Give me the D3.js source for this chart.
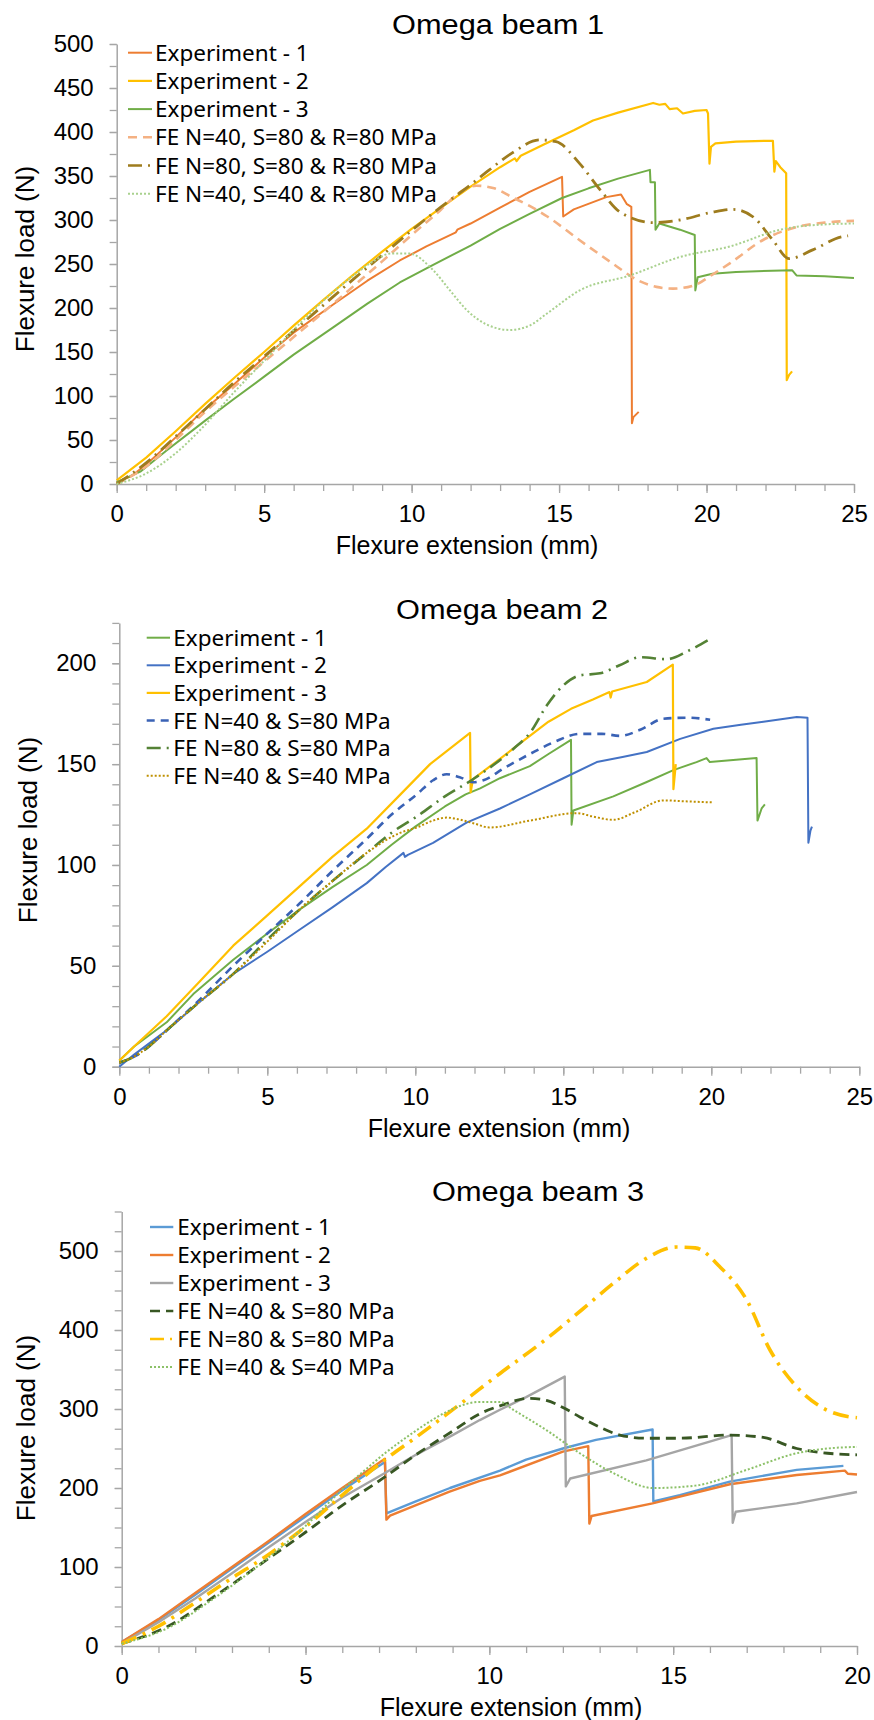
<!DOCTYPE html>
<html><head><meta charset="utf-8">
<script src="https://cdn.jsdelivr.net/npm/d3@7"></script>
<style>body{margin:0;background:#fff} svg{display:block}</style>
</head><body><svg id="c" width="874" height="1720"></svg>
<script>
// ---------------- Omega beam 1 ----------------
const b1Names = ["Experiment - 1","Experiment - 2","Experiment - 3","FE N=40, S=80 & R=80 MPa","FE N=80, S=80 & R=80 MPa","FE N=40, S=40 & R=80 MPa"];
const b1Exp1 = [[0,2],[0.5,9],[1,22],[2,53],[2.82,80],[4,114],[5.08,146],[6,172],[7.34,204],[8.5,231],[9.6,254],[10.5,270],[11.5,286],[11.55,289],[12,296],[13,314],[14,332],[15.1,349],[15.14,304],[15.5,312],[16.6,326],[17.1,329],[17.3,318],[17.45,315],[17.47,69],[17.52,76],[17.7,82]];
const b1Exp2 = [[0,4],[1,30],[2,60],[3,91],[4,121],[5,150],[6,180],[7,209],[8,237],[9,264],[10,290],[11,314],[12,338],[13,360],[13.5,370],[13.56,367],[13.7,373],[14.5,386],[15.5,402],[16.15,413],[17,422],[18.19,433],[18.4,431],[18.6,432],[18.75,426],[19.0,427],[19.2,421],[19.6,424],[20.0,425],[20.05,421],[20.1,364],[20.15,383],[20.3,387],[21,389],[22,390],[22.25,390],[22.3,355],[22.35,367],[22.5,360],[22.7,353],[22.72,118],[22.8,124],[22.9,128]];
const b1Exp3 = [[0,2],[0.8,14],[1.69,38],[3,72],[3.95,96],[5,122],[6,147],[7.34,178],[8.5,205],[9.6,229],[10.73,249],[12,271],[13,290],[14,307],[15.1,325],[16,336],[17,347],[18.08,357],[18.1,343],[18.25,343],[18.27,289],[18.4,296],[19.1,289],[19.6,283],[19.62,220],[19.7,235],[20.2,239],[21,241],[22.9,243],[23.05,237],[24,236],[25,234]];
const b1Fe1 = [[0,0],[1,20],[2,50],[3,82],[4,111],[5,139],[6,167],[7,195],[8,224],[9,253],[10,283],[11,312],[11.5,328],[12.2,339],[12.8,336],[13.4,326],[14,316],[14.6,304],[15.7,277],[16.8,251],[17.7,231],[18.3,224],[18.86,222],[19.6,226],[20.2,238],[20.8,251],[21.9,277],[23.05,292],[24,297],[25,299]];
const b1Fe2 = [[0,0],[1,24],[2,54],[3,85],[4,116],[5,145],[6,174],[7,203],[8,232],[9,260],[10,288],[11,315],[12,340],[12.6,356],[13.4,376],[14.35,391],[14.9,389],[15.7,364],[16.4,334],[17.07,309],[18.2,297],[19.1,300],[20.2,309],[20.9,312],[21.6,303],[22.25,277],[22.8,256],[23.6,266],[24.6,281],[24.8,282]];
const b1Fe3 = [[0,0],[1,12],[2,35],[2.82,61],[4,105],[5,140],[6.2,182],[7,208],[8,236],[8.8,255],[9.3,262],[9.9,262],[10.73,243],[11.3,220],[11.86,198],[12.5,182],[13.33,175],[14,180],[14.6,194],[15.7,220],[17.4,237],[19.1,258],[20.8,270],[22.5,289],[24,295],[25,296]];

// ---------------- Omega beam 2 ----------------
const b2Names = ["Experiment - 1","Experiment - 2","Experiment - 3","FE N=40 & S=80 MPa","FE N=80 & S=80 MPa","FE N=40 & S=40 MPa"];
const b2Exp1 = [[0,3],[0.5,10],[1.6,22],[2.5,36],[3.85,53],[5,66],[6.1,78],[7.2,89],[8.36,100],[9.2,110],[10,119],[11,129],[11.7,135],[12.19,138],[12.86,143],[13.87,149],[14.5,155],[15.26,162],[15.28,120],[15.34,127],[16.69,134],[17.8,141],[18.72,147],[19.5,151],[19.84,153],[19.95,151],[21.53,153],[21.56,122],[21.7,128],[21.81,130]];
const b2Exp2 = [[0,0],[0.5,6],[1.6,18],[2.7,32],[3.85,46],[5,57],[6.1,68],[7.2,79],[8.36,91],[9.0,99],[9.6,106],[9.65,104],[9.75,105],[10.6,111],[11.73,121],[12.86,128],[13.87,135],[15,143],[16.13,151],[17,153.5],[17.82,156],[18.95,162.5],[20.07,167.5],[21,169.5],[21.76,171],[22.89,173.3],[23.25,173],[23.28,111],[23.35,117],[23.4,119]];
const b2Exp3 = [[0,3],[0.5,10],[1.6,25],[2.7,42],[3.85,60],[5,75],[6.1,89.5],[7.2,104],[8.36,118],[9.5,135],[10.5,150],[11.85,165.5],[11.87,136],[11.95,142.6],[12.86,152.6],[13.87,164],[14.5,171],[15.26,177.4],[16,182],[16.56,185.7],[16.6,183],[16.65,186],[17.82,190.7],[18.7,199.3],[18.72,137.6],[18.8,150]];
const b2Fe1 = [[0,2],[0.5,5],[1,10],[1.6,18],[2.7,33],[3.85,50],[5,66],[6.1,81],[7.2,97],[8.36,113],[9.2,125],[10.05,135],[10.6,142],[11.06,145],[11.5,143.5],[11.96,141],[12.3,142],[13,148],[13.87,155],[14.7,161],[15.57,165],[16.3,165],[16.92,164],[17.6,167],[18.38,172.5],[19.2,173],[19.96,172]];
const b2Fe2 = [[0,2],[0.5,5],[1,10],[1.6,18],[2.7,32],[3.85,46],[5,63],[6.1,78],[7.2,92],[8.36,106],[9.2,116],[10.05,124],[11,134],[11.96,142.6],[12.3,146],[13.31,157.5],[13.9,166],[14.44,179],[15,189],[15.57,194],[16.24,195],[16.9,199],[17.6,203],[18.49,202],[19.2,206],[19.96,212]];
const b2Fe3 = [[0,2],[0.5,5],[1,10],[1.6,18],[2.7,32],[3.85,46],[5,62],[6.1,78],[7.2,92],[8.36,106],[9.5,116],[10.05,118.6],[10.6,122],[11.06,123.5],[11.5,122.5],[11.96,120.7],[12.5,118.6],[13.87,122],[15.45,125.7],[16,124],[16.69,122.4],[17.4,126],[18.38,132],[19.2,131.5],[20.07,131]];

// ---------------- Omega beam 3 ----------------
const b3Names = ["Experiment - 1","Experiment - 2","Experiment - 3","FE N=40 & S=80 MPa","FE N=80 & S=80 MPa","FE N=40 & S=40 MPa"];
const b3Exp1 = [[0,5],[1,33],[2,65],[3,98],[4,131],[5,164],[6,197],[7.16,233],[7.2,168],[8,183],[8.93,200],[10.29,222],[11,236],[12,250],[12.9,261],[14.44,274],[14.46,183],[15.18,191],[16.54,208],[18.36,223],[19.63,228]];
const b3Exp2 = [[0,5],[1,34],[2,67],[3,100],[4,133],[5,167],[6,200],[7.16,237],[7.2,160],[7.3,165],[8.9,195],[9.74,209],[10.29,216],[12,246],[12.69,253],[12.72,155],[12.78,164.5],[14.44,180.6],[16.54,204.7],[18.36,216.5],[19.67,222],[19.75,218],[20,217]];
const b3Exp3 = [[0,3],[1,30],[2,60],[3,92],[4,125],[5,157],[6,188],[7.16,219],[8,242],[9,267],[9.74,286],[10.29,299],[11,315],[12.05,341],[12.08,202],[12.2,212],[14.27,235],[16.59,267],[16.62,156],[16.7,170],[18.36,180.5],[20,195]];
const b3Fe1 = [[0,3],[1.22,24],[2.5,62],[3.94,109],[5,144],[6,178],[7.16,214],[8,242],[9,272],[9.74,294],[10.29,304],[11.1,313.5],[11.55,311],[12,302],[12.46,290],[13.0,277],[13.55,267],[14.27,263],[15.18,263],[16.54,267],[17.45,264],[18.36,250],[19.2,244],[20,242]];
const b3Fe2 = [[0,3],[1,25],[2,55],[3,86],[3.94,114],[5,151],[6,191],[7.16,236],[8,264],[9.2,306],[10.29,345],[11.56,389],[12.5,425],[13.37,459],[14.28,491],[15.09,505],[15.6,504],[16.27,480],[17,438],[17.63,375],[18.36,328],[19.08,301],[19.81,290],[20,289]];
const b3Fe3 = [[0,3],[1.22,22],[2.5,60],[3.94,110],[5,152],[6,198],[6.5,218],[7.16,244],[7.8,266],[8.48,287],[9.0,300],[9.74,309],[10.29,309],[10.65,299],[11.56,273],[12.46,244],[13.37,219],[14.46,200],[15.6,203],[17,223],[18.36,244],[19.2,250],[20,252]];

const svg = d3.select("#c");
svg.append("rect").attr("width",874).attr("height",1720).attr("fill","#fff");

function drawChart(cfg){
  const g = svg.append("g");
  const x = d3.scaleLinear().domain([0,cfg.xMax]).range([cfg.left,cfg.right]);
  const y = d3.scaleLinear().domain([0,cfg.yMax]).range([cfg.bottom,cfg.top]);
  const axCol = "#A6A6A6";
  const xMinor = g.append("g").attr("transform",`translate(0,${cfg.bottom})`)
    .call(d3.axisBottom(x).tickValues(d3.range(0,cfg.xMax+0.001,1)).tickSize(7).tickFormat(""));
  xMinor.select(".domain").remove();
  const yMinor = g.append("g").attr("transform",`translate(${cfg.left},0)`)
    .call(d3.axisLeft(y).tickValues(d3.range(0,cfg.yMax+0.001,cfg.yMinor)).tickSize(7).tickFormat(""));
  yMinor.select(".domain").remove();
  const xa = g.append("g").attr("transform",`translate(0,${cfg.bottom})`)
    .call(d3.axisBottom(x).tickValues(d3.range(0,cfg.xMax+0.001,5)).tickSize(9).tickPadding(12).tickSizeOuter(0));
  const ya = g.append("g").attr("transform",`translate(${cfg.left},0)`)
    .call(d3.axisLeft(y).tickValues(d3.range(0,cfg.yMax+0.001,cfg.yMajor)).tickSize(7).tickPadding(16).tickSizeOuter(0));
  [xa,ya,xMinor,yMinor].forEach(a=>{
    a.selectAll("line").attr("stroke",axCol).attr("stroke-width",1.3);
    a.selectAll(".domain").attr("stroke",axCol).attr("stroke-width",1.5);
    a.selectAll("text").attr("font-family","'Liberation Sans', Arial, sans-serif").attr("font-size",24).attr("fill","#000");
  });
  cfg.series.forEach(s=>{
    const line = d3.line().x(d=>x(d[0])).y(d=>y(d[1])).curve(s.smooth?d3.curveMonotoneX:d3.curveLinear);
    g.append("path").datum(s.data).attr("d",line).attr("fill","none")
      .attr("stroke",s.color).attr("stroke-width",s.width).attr("stroke-dasharray",s.dash||null)
      .attr("stroke-linejoin","round");
  });
  cfg.series.forEach((s,i)=>{
    const by = cfg.leg.by + i*cfg.leg.dy;
    g.append("line").attr("x1",cfg.leg.sx0).attr("x2",cfg.leg.sx1).attr("y1",by-8).attr("y2",by-8)
      .attr("stroke",s.color).attr("stroke-width",Math.min(s.width,2.5)).attr("stroke-dasharray",s.ldash||s.dash||null);
    g.append("text").attr("x",cfg.leg.tx).attr("y",by).text(s.name)
      .attr("font-family","'Noto Sans', sans-serif").attr("font-size",22.5).attr("fill","#000");
  });
  g.append("text").attr("x",cfg.titleX).attr("y",cfg.titleY).attr("text-anchor","middle")
    .attr("font-family","'Liberation Sans', Arial, sans-serif").attr("font-size",27)
    .attr("textLength",212).attr("lengthAdjust","spacingAndGlyphs").text(cfg.title);
  g.append("text").attr("x",cfg.xTitleX).attr("y",cfg.bottom+70).attr("text-anchor","middle")
    .attr("font-family","'Liberation Sans', Arial, sans-serif").attr("font-size",25).text("Flexure extension (mm)");
  g.append("text").attr("transform",`translate(${cfg.yTitleX},${cfg.yTitleY}) rotate(-90)`).attr("text-anchor","middle")
    .attr("font-family","'Liberation Sans', Arial, sans-serif").attr("font-size",26).text("Flexure load (N)");
}

drawChart({
  title:"Omega beam 1", titleX:498, titleY:34,
  left:116.7, right:854, bottom:484, top:44, xMax:25, yMax:500, yMajor:50, yMinor:25,
  xTitleX:467, yTitleX:33.5, yTitleY:259,
  leg:{sx0:128, sx1:152, tx:155, by:60.7, dy:28.2},
  series:[
    {name:b1Names[0], data:b1Exp1, color:"#ED7D31", width:2},
    {name:b1Names[1], data:b1Exp2, color:"#FFC000", width:2.2},
    {name:b1Names[2], data:b1Exp3, color:"#70AD47", width:2},
    {name:b1Names[3], data:b1Fe1, color:"#F4B183", width:2.6, dash:"9,6", smooth:true},
    {name:b1Names[4], data:b1Fe2, color:"#9E7C1E", width:2.8, dash:"14,6,2,6", smooth:true},
    {name:b1Names[5], data:b1Fe3, color:"#A9D18E", width:2, dash:"2,2", smooth:true}
  ]
});
drawChart({
  title:"Omega beam 2", titleX:502, titleY:619,
  left:119.3, right:859.3, bottom:1066.7, top:622.9, xMax:25, yMax:220, yMajor:50, yMinor:10,
  xTitleX:499, yTitleX:36.5, yTitleY:830,
  leg:{sx0:146.7, sx1:170, tx:173.3, by:645.7, dy:27.6},
  series:[
    {name:b2Names[0], data:b2Exp1, color:"#70AD47", width:2},
    {name:b2Names[1], data:b2Exp2, color:"#4472C4", width:2},
    {name:b2Names[2], data:b2Exp3, color:"#FFC000", width:2.2},
    {name:b2Names[3], data:b2Fe1, color:"#3A62B5", width:2.6, dash:"8,6", smooth:true},
    {name:b2Names[4], data:b2Fe2, color:"#548235", width:2.6, dash:"14,6,2,6", smooth:true},
    {name:b2Names[5], data:b2Fe3, color:"#BF9000", width:2, dash:"2,2", smooth:true}
  ]
});
drawChart({
  title:"Omega beam 3", titleX:538, titleY:1201,
  left:121.7, right:857, bottom:1646, top:1211.5, xMax:20, yMax:550, yMajor:100, yMinor:25,
  xTitleX:511, yTitleX:34.5, yTitleY:1428,
  leg:{sx0:150, sx1:173.3, tx:177.3, by:1235, dy:28},
  series:[
    {name:b3Names[0], data:b3Exp1, color:"#5B9BD5", width:2.4},
    {name:b3Names[1], data:b3Exp2, color:"#ED7D31", width:2.4},
    {name:b3Names[2], data:b3Exp3, color:"#A5A5A5", width:2.4},
    {name:b3Names[3], data:b3Fe1, color:"#385723", width:2.8, dash:"10,6", smooth:true},
    {name:b3Names[4], data:b3Fe2, color:"#FFC000", width:3.6, dash:"16,7,3,7", ldash:"14,6,2,6", smooth:true},
    {name:b3Names[5], data:b3Fe3, color:"#8CC168", width:2, dash:"2,2", smooth:true}
  ]
});
</script></body></html>
